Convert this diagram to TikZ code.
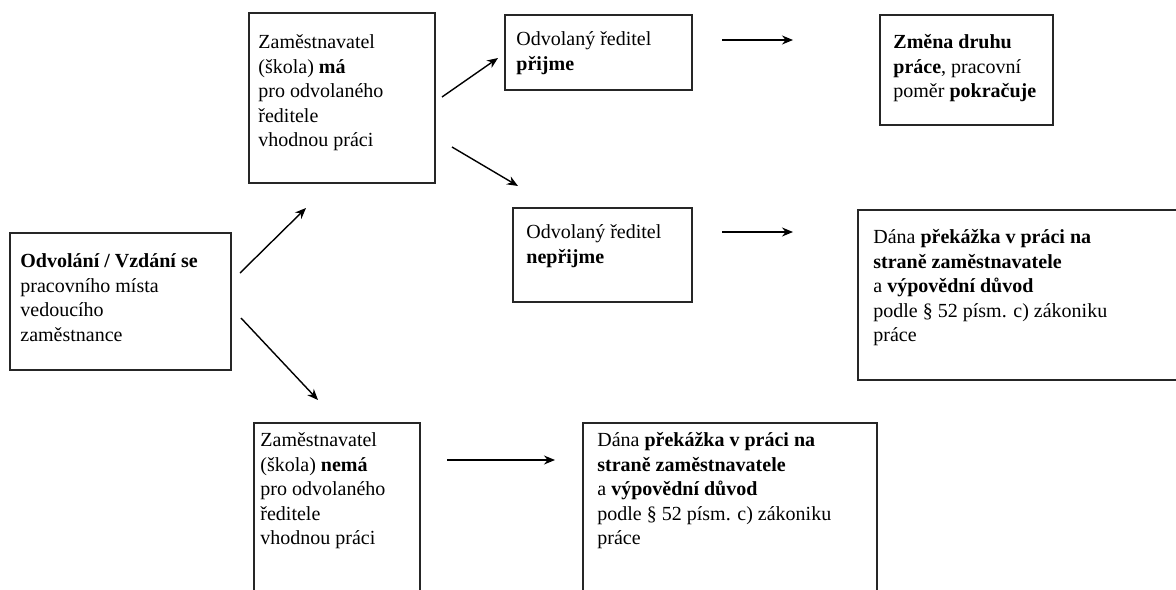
\documentclass[tikz,border=0pt]{standalone}
\usepackage{fontspec}
\setmainfont{Liberation Serif}
\usetikzlibrary{arrows.meta,fit}
\begin{document}
\begin{tikzpicture}[x=0.5pt,y=-0.5pt,
  box/.style={draw=black!85, line width=0.8pt, inner sep=0pt, fit={#1}},
  txt/.style={anchor=north west, inner sep=0pt, align=left,
    font=\fontsize{10pt}{12.25pt}\selectfont},
  arr/.style={-{Stealth[length=5.5pt,width=4.5pt]}, line width=0.7pt, black}]
\useasboundingbox (0,0) rectangle (1176,589);
\fill[white] (0,0) rectangle (1176,589);
\clip (0,0) rectangle (1176,589);
% boxes
\node[box={(10,233) (231,370)}] (A) {};
\node[box={(249,13) (435,183)}] (B) {};
\node[box={(505,15) (692,90)}] (C) {};
\node[box={(880,15) (1053,125)}] (D) {};
\node[box={(513,208) (692,302)}] (E) {};
\node[box={(858,210) (1190,380)}] (F) {};
\node[box={(254,423) (420,600)}] (G) {};
\node[box={(583,423) (877,600)}] (H) {};
% texts (top = first baseline - strut height)
\node[txt] (tA) at (20,250) {\strut\textbf{Odvolání / Vzdání se}\\pracovního místa\\vedoucího\\zaměstnance};
\node[txt] (tB) at (258,31) {\strut Zaměstnavatel\\(škola) \textbf{má}\\pro odvolaného\\ředitele\\vhodnou práci};
\node[txt] (tC) at (516,28) {\strut Odvolaný ředitel\\\textbf{přijme}};
\node[txt] (tD) at (893,31) {\strut\textbf{Změna druhu}\\\textbf{práce}, pracovní\\poměr \textbf{pokračuje}};
\node[txt] (tE) at (526,221) {\strut Odvolaný ředitel\\\textbf{nepřijme}};
\node[txt] (tF) at (873,226) {\strut Dána \textbf{překážka v práci na}\\\textbf{straně zaměstnavatele}\\a \textbf{výpovědní důvod}\\podle § 52 písm. c) zákoniku\\práce};
\node[txt] (tG) at (260,429) {\strut Zaměstnavatel\\(škola) \textbf{nemá}\\pro odvolaného\\ředitele\\vhodnou práci};
\node[txt] (tH) at (597,429) {\strut Dána \textbf{překážka v práci na}\\\textbf{straně zaměstnavatele}\\a \textbf{výpovědní důvod}\\podle § 52 písm. c) zákoniku\\práce};
% arrow end points
\coordinate (ab1) at (240,273); \coordinate (ab2) at (306,208);
\coordinate (ag1) at (241,318); \coordinate (ag2) at (318,400);
\coordinate (bc1) at (442,97);  \coordinate (bc2) at (498,58);
\coordinate (be1) at (452,147); \coordinate (be2) at (518,186);
\coordinate (cd1) at (722,40);  \coordinate (cd2) at (793,40);
\coordinate (ef1) at (722,232); \coordinate (ef2) at (793,232);
\coordinate (gh1) at (447,460); \coordinate (gh2) at (555,460);
\draw[arr] (ab1) -- (ab2);
\draw[arr] (ag1) -- (ag2);
\draw[arr] (bc1) -- (bc2);
\draw[arr] (be1) -- (be2);
\draw[arr] (cd1) -- (cd2);
\draw[arr] (ef1) -- (ef2);
\draw[arr] (gh1) -- (gh2);
\end{tikzpicture}
\end{document}
